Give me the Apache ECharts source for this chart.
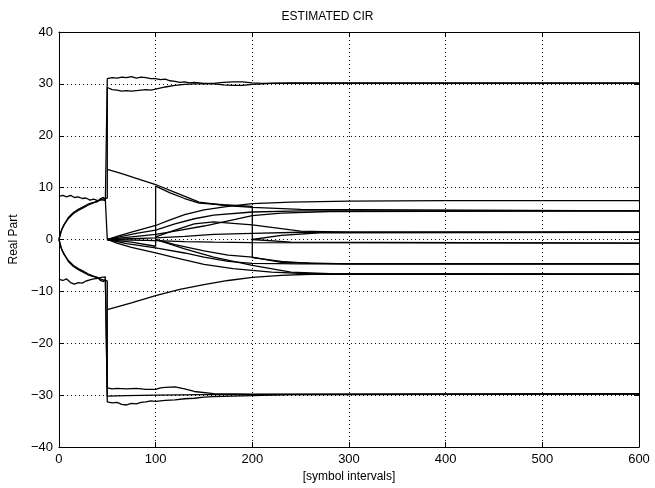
<!DOCTYPE html>
<html>
<head>
<meta charset="utf-8">
<script src="https://cdn.jsdelivr.net/npm/echarts@6/dist/echarts.min.js"></script>
<style>
  html, body { margin: 0; padding: 0; background: #fff; }
  #main { width: 655px; height: 488px; }
</style>
</head>
<body>
<div id="main"></div>
<script>
// tick labels
var xTicks = [0, 100, 200, 300, 400, 500, 600];
var yTicks = [-40, -30, -20, -10, 0, 10, 20, 30, 40];

// 0..50: true taps (noisy) then jump into the +/-30 bands
var trueUpper = [[0,8.3],[4,8.5],[8,8.2],[12,8.5],[16,8.1],[20,8.2],[24,7.9],[28,8.0],[32,7.6],[36,7.8],[40,7.5],[44,7.7],[48,7.5],[50,7.6],
  [50,31.0],[55,31.2],[60,31.1],[65,31.3],[70,31.2],[75,31.4],[80,31.1],[85,31.3],[90,31.2],[95,31.0],[100,31.0],[105,30.8],[110,30.9],[115,30.6],[120,30.5],[125,30.3],[130,30.4],[135,30.2],[140,30.3],[150,30.1],[160,30.1],[170,30.3],[180,30.4],[190,30.4],[200,30.2],[210,30.1],[240,30.2],[600,30.2]];
var trueLower = [[0,-7.7],[4,-7.9],[8,-7.6],[12,-8.3],[16,-8.6],[20,-8.3],[24,-8.4],[28,-8.0],[32,-7.8],[36,-7.6],[40,-7.5],[44,-7.3],[48,-7.2],[50,-7.3],
  [50,-31.3],[55,-31.5],[60,-31.4],[65,-31.8],[70,-31.9],[75,-31.6],[80,-31.7],[85,-31.4],[90,-31.3],[95,-31.1],[100,-31.2],[110,-31.0],[120,-30.9],[130,-30.7],[140,-30.6],[150,-30.4],[160,-30.3],[180,-30.2],[200,-30.1],[240,-29.9],[600,-29.8]];

// 0..50: estimates converging to +/-8
var estUpperA = [[0,0],[2,1.5],[5,2.8],[10,4.1],[15,5.0],[20,5.6],[25,6.1],[30,6.6],[35,7.0],[40,7.4],[44,7.7],[47,7.9],[50,8.0],
  [50,29.3],[55,28.9],[60,28.8],[65,28.6],[70,28.7],[75,28.6],[80,28.7],[85,28.8],[90,28.9],[95,28.8],[100,29.0],[110,29.4],[120,29.7],[130,29.9],[140,30.0],[160,30.0],[170,29.8],[180,29.7],[190,29.7],[200,29.9],[220,30.1],[600,30.1]];
var estUpperB = [[0,0],[3,2.0],[6,3.0],[10,4.3],[15,5.2],[20,5.8],[25,6.3],[30,6.8],[35,7.1],[40,7.3],[43,7.9],[46,8.1],[48,7.6],[50,7.8],[50,0]];
var estLowerA = [[0,0],[2,-1.5],[5,-2.8],[10,-4.1],[15,-5.0],[20,-5.6],[25,-6.1],[30,-6.6],[35,-7.0],[40,-7.4],[44,-7.7],[47,-7.9],[50,-8.0],
  [50,-28.6],[55,-28.8],[60,-28.7],[70,-28.8],[80,-28.7],[90,-28.9],[100,-28.9],[105,-28.6],[110,-28.5],[120,-28.4],[130,-28.8],[140,-29.3],[160,-29.7],[200,-29.8],[600,-29.7]];
var estLowerB = [[0,0],[3,-2.0],[6,-3.0],[10,-4.3],[15,-5.2],[20,-5.8],[25,-6.3],[30,-6.8],[35,-7.1],[40,-7.3],[43,-7.9],[46,-8.1],[48,-7.6],[50,-7.8],
  [50,-30.2],[70,-30.1],[100,-30.0],[150,-29.9],[600,-29.8]];

// 50..600: taps fanning out to their final values
var fanUp1 = [[50,0],[60,0.6],[75,1.4],[90,2.2],[100,2.7],[115,3.8],[130,4.8],[150,5.7],[175,6.4],[200,6.9],[240,7.2],[300,7.4],[400,7.5],[600,7.5]];
var fanUp2 = [[50,0],[65,0.6],[80,1.2],[100,1.8],[120,3.0],[140,4.0],[160,4.7],[200,5.3],[250,5.5],[600,5.5]];
var fanUp3 = [[50,0],[70,0.4],[100,1.0],[120,1.6],[150,2.6],[180,3.8],[200,4.6],[230,5.1],[280,5.4],[600,5.5]];
var decayUp = [[50,13.5],[65,12.7],[80,11.8],[100,10.6],[120,9.1],[145,7.2],[170,6.6],[200,6.2],[250,5.8],[600,5.5]];
var shifted = [[50,0],[75,-0.5],[100,-1.3],[100,10.3],[115,9.0],[130,7.9],[145,7.0],[170,6.7],[200,6.4],[200,-3.5],[230,-4.2],[260,-4.6],[300,-4.7],[600,-4.7]];
var nearZ1 = [[50,0],[100,0.3],[130,0.6],[160,1.0],[200,1.2],[250,1.4],[600,1.4]];
var nearZ2 = [[50,0],[100,-0.2],[130,-0.4],[160,-0.5],[200,-0.6],[600,-0.7]];
var nearZ3 = [[100,0.5],[120,1.8],[140,3.0],[160,3.4],[200,2.8],[250,1.6],[300,1.4],[600,1.4]];
var nearZ4 = [[200,0],[230,0.8],[270,1.3],[600,1.4]];
var nearZ5 = [[200,0],[240,-0.5],[600,-0.7]];
var fanDn1 = [[50,0],[60,-0.7],[75,-1.5],[100,-2.6],[120,-3.5],[150,-4.8],[180,-5.6],[220,-6.3],[260,-6.6],[600,-6.7]];
var fanDn2 = [[50,0],[70,-0.8],[100,-1.6],[130,-2.6],[150,-3.4],[175,-4.2],[200,-4.6],[250,-4.7],[600,-4.7]];
var fanDn3 = [[100,0],[130,-1.8],[160,-3.4],[200,-5.0],[240,-6.3],[280,-6.6],[600,-6.7]];
var fanDn4 = [[100,0],[120,-1.0],[150,-2.2],[175,-3.0],[200,-3.4],[230,-4.4],[300,-4.7],[600,-4.7]];
var decayDn = [[50,-13.5],[75,-12.2],[100,-10.8],[125,-9.6],[150,-8.7],[175,-7.9],[200,-7.3],[230,-6.9],[260,-6.7],[600,-6.7]];

var curves = [trueUpper, trueLower, estUpperA, estUpperB, estLowerA, estLowerB,
  fanUp1, fanUp2, fanUp3, decayUp, shifted, nearZ1, nearZ2, nearZ3, nearZ4, nearZ5,
  fanDn1, fanDn2, fanDn3, fanDn4, decayDn];

var myChart = echarts.init(document.getElementById('main'));
var font = '"Liberation Sans", Arial, Helvetica, sans-serif';
var minus = function (v) { return String(v).replace('-', '\u2212'); };

var series = curves.map(function (d) {
  return {
    type: 'line',
    data: d,
    showSymbol: false,
    silent: true,
    animation: false,
    lineStyle: { color: '#000', width: 1.3 }
  };
});

var frame = { show: true, onZero: false, lineStyle: { color: '#000', width: 1 } };
var ticks = { show: true, inside: true, length: 5, lineStyle: { color: '#000' } };

var option = {
  animation: false,
  backgroundColor: '#fff',
  title: {
    text: 'ESTIMATED CIR',
    left: 'center',
    top: 6,
    textStyle: { fontFamily: font, fontSize: 12, fontWeight: 'normal', color: '#000' }
  },
  grid: { left: 58, right: 16, top: 32, bottom: 36 },
  xAxis: [{
    type: 'value', min: 0, max: 600, interval: 100,
    name: '[symbol intervals]', nameLocation: 'middle', nameGap: 24,
    nameTextStyle: { fontFamily: font, fontSize: 12, color: '#000' },
    axisLine: frame, axisTick: ticks,
    axisLabel: { fontFamily: font, fontSize: 13, color: '#000', margin: 6,
      formatter: function (v) { return xTicks.indexOf(v) >= 0 ? minus(v) : ''; } },
    splitLine: { show: true, lineStyle: { color: '#000', type: [1, 3], width: 1 } }
  }, {
    type: 'value', min: 0, max: 600, interval: 100, position: 'top',
    axisLine: frame, axisTick: ticks,
    axisLabel: { show: false }, splitLine: { show: false }
  }],
  yAxis: [{
    type: 'value', min: -40, max: 40, interval: 10,
    name: 'Real Part', nameLocation: 'middle', nameGap: 28,
    nameTextStyle: { fontFamily: font, fontSize: 12, color: '#000' },
    axisLine: frame, axisTick: ticks,
    axisLabel: { fontFamily: font, fontSize: 13, color: '#000', margin: 6,
      formatter: function (v) { return yTicks.indexOf(v) >= 0 ? minus(v) : ''; } },
    splitLine: { show: true, lineStyle: { color: '#000', type: [1, 3], width: 1 } }
  }, {
    type: 'value', min: -40, max: 40, interval: 10, position: 'right',
    axisLine: frame, axisTick: ticks,
    axisLabel: { show: false }, splitLine: { show: false }
  }],
  series: series
};

myChart.setOption(option);
</script>
</body>
</html>
